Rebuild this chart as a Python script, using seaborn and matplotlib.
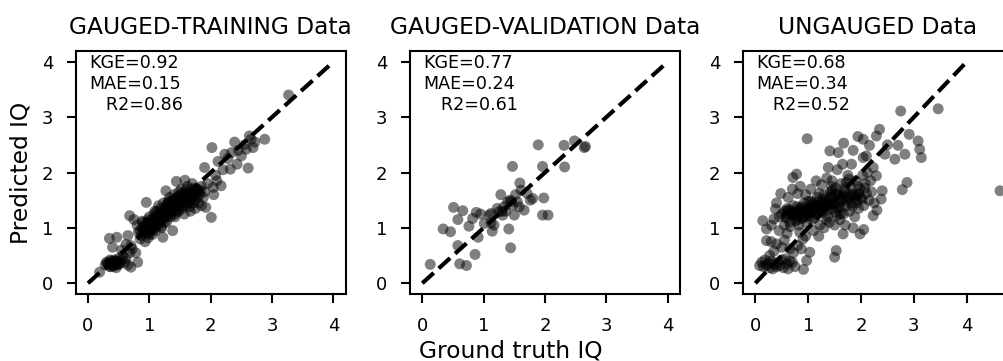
import numpy as np
import pandas as pd
import matplotlib
matplotlib.use("Agg")
import matplotlib.pyplot as plt
import seaborn as sns

# ---------------- data ----------------
titles = ["GAUGED-TRAINING Data", "GAUGED-VALIDATION Data", "UNGAUGED Data"]
kge = [0.92, 0.77, 0.68]
mae = [0.15, 0.24, 0.34]
r2 = [0.86, 0.61, 0.52]
tick_vals = [0, 1, 2, 3, 4]

train_x = [0.19, 0.28, 0.30, 0.33, 0.35, 0.37, 0.38, 0.40, 0.42, 0.43, 0.45, 0.47, 0.48, 0.50, 0.52,
           0.55, 0.57, 0.60, 0.62, 0.65, 0.70, 0.81, 0.40, 0.55, 0.68, 0.72, 0.35, 0.47, 0.65, 0.62,
           0.70, 0.78,
           0.68, 0.75, 0.80, 0.82, 0.85, 0.87, 0.88, 0.90, 0.92, 0.93, 0.95, 0.95, 0.97, 0.98, 1.00,
           1.00, 1.02, 1.03, 1.05, 1.05, 1.07, 1.08, 1.10, 1.10, 1.12, 1.12, 1.14, 1.15, 1.15, 1.17,
           1.18, 1.20, 1.20, 1.22, 1.22, 1.23, 1.25, 1.25, 1.27, 1.28, 1.28, 1.30, 1.30, 1.32, 1.33,
           1.35, 1.35, 1.37, 1.38, 1.38, 1.40, 1.40, 1.42, 1.43, 1.44, 1.45, 1.46, 1.48, 1.48, 1.50,
           1.50, 1.52, 1.53, 1.55, 1.55, 1.57, 1.58, 1.58, 1.60, 1.60, 1.62, 1.63, 1.65, 1.65, 1.67,
           1.68, 1.70, 1.70, 1.72, 1.73, 1.75, 1.75, 1.78, 1.80, 1.80, 1.82, 1.85, 1.85, 1.88, 1.90,
           1.90, 1.92, 1.95, 2.01, 2.04, 2.05, 2.10, 2.17, 2.02, 2.08, 2.12, 2.20, 2.23, 2.28, 2.32,
           2.34, 2.39, 2.43, 2.45, 2.50, 2.55, 2.58, 2.61, 2.63, 2.66, 2.69, 2.72, 2.88, 3.27,
           1.05, 1.08, 1.12, 1.18, 1.22, 1.26, 1.30, 1.34, 1.36, 1.40, 1.44, 1.47, 1.52, 1.56, 1.60,
           1.64, 1.68, 1.72, 1.76, 1.15, 1.25, 0.95, 1.00, 0.90, 0.85, 0.98,
           0.32, 0.38, 0.44, 0.50, 0.36, 0.46,
           0.92, 0.97, 1.02, 1.06, 1.11, 1.16, 1.21, 1.24, 1.29, 1.33, 1.37, 1.41, 1.45, 1.49, 1.54,
           1.59, 1.63, 1.69, 1.74, 1.83, 0.88, 0.99, 1.09, 1.19, 1.31, 1.42, 1.53, 1.66, 1.79]
train_y = [0.20, 0.33, 0.38, 0.35, 0.30, 0.40, 0.33, 0.37, 0.31, 0.42, 0.36, 0.33, 0.40, 0.45, 0.36,
           0.42, 0.50, 0.38, 0.45, 0.33, 0.29, 0.38, 0.65, 0.60, 0.55, 0.62, 0.81, 0.83, 0.86, 0.70,
           0.68, 0.55,
           1.22, 1.15, 1.05, 0.92, 0.80, 0.86, 1.00, 0.95, 1.04, 0.75, 1.46, 0.90, 1.10, 0.82, 1.00,
           1.20, 0.95, 1.08, 1.15, 0.88, 1.02, 1.25, 1.10, 0.95, 1.30, 1.18, 1.05, 1.40, 1.22, 1.12,
           1.35, 1.25, 1.00, 0.83, 1.15, 1.45, 1.30, 1.20, 1.67, 1.38, 1.10, 1.25, 1.45, 1.35, 1.55,
           1.20, 1.40, 1.30, 0.95, 1.50, 1.60, 1.35, 1.25, 1.45, 1.84, 1.55, 1.38, 1.65, 1.30, 1.50,
           1.42, 1.70, 1.35, 1.58, 1.45, 1.25, 1.86, 1.62, 1.50, 1.40, 1.75, 1.55, 1.45, 1.65, 1.30,
           1.70, 1.55, 1.80, 1.45, 1.62, 1.35, 1.72, 1.55, 1.68, 1.45, 1.60, 1.75, 1.40, 1.55, 2.09,
           1.65, 1.37, 1.80, 1.19, 1.73, 1.60, 1.85, 1.76, 2.45, 1.95, 2.20, 2.05, 2.33, 2.25, 2.06,
           2.36, 2.55, 2.15, 2.40, 2.30, 2.50, 2.42, 2.08, 2.66, 2.60, 2.45, 2.55, 2.60, 3.40,
           1.05, 0.98, 1.12, 1.20, 1.28, 1.35, 1.32, 1.28, 1.48, 1.42, 1.40, 1.52, 1.48, 1.52, 1.58,
           1.60, 1.52, 1.58, 1.65, 1.15, 1.10, 1.02, 0.88, 1.10, 0.95, 1.15,
           0.36, 0.30, 0.40, 0.34, 0.42, 0.28,
           0.96, 1.08, 1.12, 0.99, 1.21, 1.09, 1.31, 1.18, 1.42, 1.22, 1.36, 1.52, 1.30, 1.58, 1.40,
           1.68, 1.46, 1.61, 1.50, 1.66, 1.12, 0.92, 1.30, 1.02, 1.48, 1.20, 1.62, 1.38, 1.70]

valid_x = [0.13, 0.34, 0.46, 0.51, 0.58, 0.58, 0.61, 0.66, 0.72, 0.76, 0.82, 0.86, 0.88, 0.91, 0.95,
           1.01, 1.09, 1.12, 1.14, 1.17, 1.22, 1.25, 1.28, 1.31, 1.33, 1.36, 1.39, 1.41, 1.43, 1.44,
           1.47, 1.47, 1.50, 1.52, 1.55, 1.58, 1.59, 1.61, 1.66, 1.71, 1.76, 1.80, 1.89, 1.96, 1.98,
           1.96, 2.05, 2.31, 2.32, 2.48, 2.64, 2.66, 1.12, 1.30, 1.45]
valid_y = [0.34, 0.98, 0.93, 1.37, 1.15, 0.68, 0.35, 1.31, 0.32, 1.03, 1.17, 0.52, 1.28, 0.83, 1.25,
           1.08, 1.23, 1.09, 0.94, 1.05, 1.35, 1.29, 1.60, 1.23, 1.38, 1.30, 1.47, 0.98, 1.50, 0.64,
           2.11, 1.41, 1.23, 1.60, 1.47, 1.38, 1.81, 1.68, 1.32, 1.62, 1.50, 1.53, 2.50, 2.11, 1.54,
           1.23, 1.23, 2.49, 2.10, 2.57, 2.45, 2.47, 1.26, 1.30, 1.48]

ungauged_x = [0.08, 0.12, 0.15, 0.18, 0.21, 0.24, 0.27, 0.30, 0.33, 0.36, 0.40, 0.43, 0.46, 0.50, 0.53,
              0.56, 0.60, 0.62, 0.65, 0.70, 0.75, 0.91, 0.97, 0.27, 0.35, 0.40, 0.21, 0.30, 0.50, 0.55,
              0.65, 0.72, 0.80, 0.87, 1.03, 0.84, 0.90, 0.60, 0.45, 0.14, 0.21, 0.35, 0.38, 0.48, 0.71,
              0.78, 0.98,
              0.50, 0.55, 0.58, 0.60, 0.62, 0.65, 0.67, 0.70, 0.72, 0.75, 0.78, 0.80, 0.82, 0.85, 0.88,
              0.90, 0.92, 0.95, 0.97, 1.00, 1.02, 1.05, 1.07, 1.10, 1.12, 1.15, 1.17, 1.20, 1.22, 1.25,
              1.27, 1.30, 1.32, 1.35, 1.37, 1.40, 1.42, 1.45, 1.47, 1.50, 1.52, 1.55, 1.57, 1.60, 1.62,
              1.65, 1.67, 1.70, 1.72, 1.75, 1.78, 1.80, 1.82, 1.85, 1.88, 1.90, 1.92, 1.95, 1.98, 2.00,
              2.03, 2.05, 2.08, 2.10, 2.12, 2.15, 2.18, 2.20, 2.25, 2.30, 2.23, 2.38, 2.40,
              0.62, 0.70, 0.80, 0.85, 0.95, 1.05, 1.15, 1.25, 1.35, 1.45, 1.38, 1.55, 1.65, 1.75,
              0.55, 0.45, 0.40, 0.30, 0.95, 1.10, 1.20, 1.30, 1.40, 1.50, 1.60, 1.70, 1.85, 1.53, 1.50,
              1.66, 1.98, 2.05,
              1.41, 1.57, 1.67, 1.82, 1.94, 2.04, 2.04, 2.16, 2.23, 2.29, 2.29, 2.35, 2.45, 2.64, 2.70,
              2.75, 2.83, 2.91, 3.08, 3.11, 3.14, 2.87, 2.78, 3.46, 4.63, 2.50, 2.10, 1.85,
              0.58, 0.63, 0.69, 0.74, 0.79, 0.83, 0.88, 0.93, 0.99, 1.04, 1.08, 1.13, 1.18, 1.23, 1.28,
              1.33, 1.39, 1.43, 1.48, 1.53, 1.58, 1.63, 1.69, 1.74, 1.79, 1.84, 1.89, 1.94, 0.66, 0.77,
              0.92, 1.06, 1.19, 1.31, 1.46, 1.61, 1.77, 1.93, 2.07,
              0.72, 0.86, 0.94, 1.01, 1.09, 1.16, 1.24, 1.29, 1.36, 1.41, 1.49, 1.56, 1.64, 1.71, 1.83,
              1.91, 2.02, 0.60, 0.81, 1.00, 1.21, 1.44, 1.72, 1.96, 1.12, 1.34, 1.55]
ungauged_y = [0.32, 0.38, 0.30, 0.42, 0.32, 0.36, 0.28, 0.40, 0.26, 0.34, 0.30, 0.38, 0.32, 0.42, 0.28,
              0.44, 0.35, 0.26, 0.40, 0.38, 0.30, 0.25, 0.41, 0.50, 0.58, 0.71, 0.77, 0.75, 0.65, 0.78,
              0.62, 0.55, 0.68, 0.62, 0.56, 0.92, 0.80, 0.90, 0.95, 1.13, 0.98, 1.16, 1.34, 1.62, 1.91,
              1.97, 2.61,
              1.25, 1.30, 1.20, 1.35, 1.25, 1.10, 1.30, 1.22, 1.40, 1.28, 1.15, 1.32, 1.05, 1.25, 1.38,
              1.18, 1.45, 1.30, 1.08, 1.35, 1.22, 1.48, 1.15, 1.30, 1.40, 1.25, 1.55, 1.35, 1.05, 1.45,
              1.28, 1.60, 1.38, 1.50, 1.20, 1.42, 1.65, 1.35, 1.55, 1.28, 1.72, 1.45, 1.60, 1.35, 1.80,
              1.50, 1.25, 1.65, 1.40, 1.55, 1.30, 1.75, 1.45, 1.60, 1.20, 1.85, 1.50, 1.35, 1.70, 1.55,
              1.95, 1.40, 1.80, 1.62, 2.00, 1.50, 1.85, 1.65, 1.45, 1.32, 1.22, 1.52, 1.67,
              1.55, 1.70, 1.62, 1.75, 1.60, 1.70, 1.85, 1.78, 1.90, 1.85, 2.09, 2.05, 2.15, 1.95,
              1.05, 1.20, 1.45, 1.05, 0.85, 0.95, 0.85, 1.00, 1.10, 1.05, 1.15, 1.05, 1.00, 0.59, 0.47,
              0.89, 0.89, 0.97,
              2.39, 2.36, 2.53, 2.15, 2.65, 2.60, 2.27, 2.49, 2.09, 1.94, 2.66, 2.78, 2.33, 2.24, 2.49,
              3.11, 2.33, 2.69, 2.57, 2.42, 2.27, 1.82, 1.69, 3.15, 1.67, 2.50, 2.30, 2.40,
              1.18, 1.33, 1.27, 1.21, 1.38, 1.29, 1.17, 1.33, 1.26, 1.41, 1.36, 1.29, 1.47, 1.36, 1.52,
              1.43, 1.33, 1.58, 1.46, 1.62, 1.41, 1.53, 1.71, 1.48, 1.62, 1.39, 1.57, 1.75, 1.02, 1.12,
              1.20, 1.28, 1.40, 1.44, 1.68, 1.25, 1.88, 1.60, 1.72,
              1.24, 1.35, 1.22, 1.30, 1.45, 1.38, 1.30, 1.46, 1.40, 1.55, 1.44, 1.36, 1.60, 1.52, 1.58,
              1.45, 1.52, 1.30, 1.20, 1.48, 1.62, 1.75, 1.82, 1.62, 1.18, 1.15, 1.22]

# ---------------- styling ----------------
sns.set_theme(style="ticks")
plt.rcParams['font.family'] = ['DejaVu Sans']
plt.rcParams.update({
    "axes.linewidth": 1.5,
    "axes.edgecolor": "black",
    "axes.labelcolor": "black",
    "xtick.major.size": 6.7,
    "ytick.major.size": 6.7,
    "xtick.major.width": 1.5,
    "ytick.major.width": 1.5,
    "xtick.major.pad": 9.5,
    "ytick.major.pad": 9.5,
    "xtick.color": "black",
    "ytick.color": "black",
    "xtick.labelsize": 13,
    "ytick.labelsize": 13,
    "text.color": "black",
})

W, H = 1004, 361
fig = plt.figure(figsize=(W / 100, H / 100), dpi=100)

lefts = [75.7, 410.0, 742.7]
ax_w, ax_top, ax_bot = 270.0, 50.7, 294.3
xlims = [(-0.2, 4.2), (-0.2, 4.2), (-0.24, 4.87)]
datasets = [(train_x, train_y), (valid_x, valid_y), (ungauged_x, ungauged_y)]

for i in range(3):
    ax = fig.add_axes([lefts[i] / W, (H - ax_bot) / H, ax_w / W, (ax_bot - ax_top) / H])
    df = pd.DataFrame({"truth": datasets[i][0], "pred": datasets[i][1]})
    sns.scatterplot(data=df, x="truth", y="pred", ax=ax, color="black", alpha=0.5,
                    s=62, edgecolor="none", linewidth=0)
    ax.plot([0, 4], [0, 4], color="black", linestyle="--", linewidth=3)
    ax.set_xlim(*xlims[i])
    ax.set_ylim(-0.2, 4.2)
    ax.set_xticks(tick_vals)
    ax.set_yticks(tick_vals)
    ax.set_xlabel("")
    ax.set_ylabel("")
    ax.set_title(titles[i], fontsize=16.8, pad=12, color="black")
    ax.text(0.05, 0.985, f"KGE={kge[i]:.2f}\nMAE={mae[i]:.2f}\n   R2={r2[i]:.2f}",
            transform=ax.transAxes, ha="left", va="top", fontsize=12.6, color="black")

fig.text(510.5 / W, 1 - 357 / H, "Ground truth IQ", ha="center", va="baseline",
         fontsize=16.8, color="black")
fig.text(33 / W, (H - (ax_top + ax_bot) / 2) / H, "Predicted IQ", rotation=90,
         ha="right", va="center", fontsize=16.8, color="black")

fig.savefig("out.png", dpi=100)
